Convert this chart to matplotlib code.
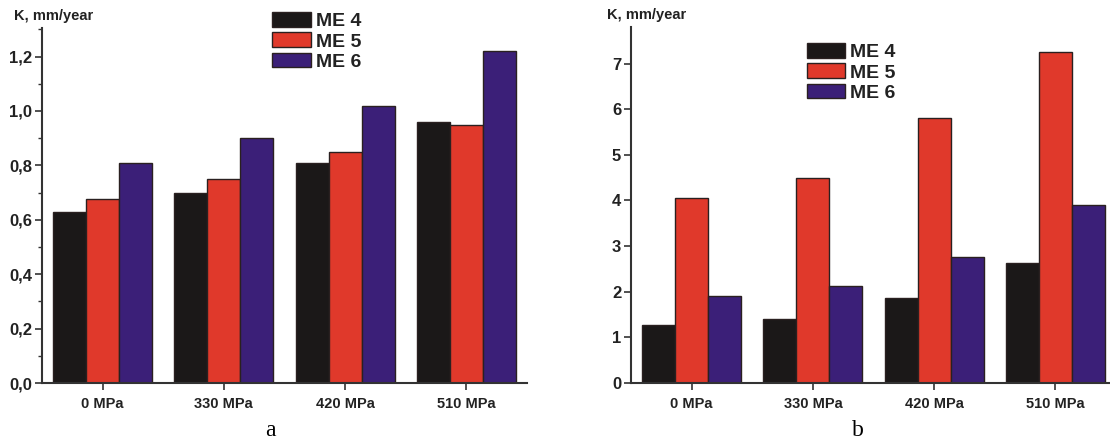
import matplotlib
matplotlib.use("Agg")
import matplotlib.pyplot as plt
import numpy as np
from matplotlib.ticker import MultipleLocator, FuncFormatter

plt.rcParams['font.family'] = ['Liberation Sans', 'DejaVu Sans']

categories = ["0 MPa", "330 MPa", "420 MPa", "510 MPa"]
series_names = ["ME 4", "ME 5", "ME 6"]
a_me4 = [0.63, 0.70, 0.81, 0.96]
a_me5 = [0.675, 0.75, 0.85, 0.95]
a_me6 = [0.81, 0.90, 1.02, 1.22]
b_me4 = [1.26, 1.41, 1.87, 2.63]
b_me5 = [4.05, 4.50, 5.80, 7.25]
b_me6 = [1.91, 2.12, 2.75, 3.90]

colors = ["#1b1818", "#e0392b", "#3b1f78"]
edge = "#2a2020"

fig = plt.figure(figsize=(11.10, 4.41), dpi=100)
axa = fig.add_axes([42/1110, 1-383/441, (527-42)/1110, (383-28)/441])
axb = fig.add_axes([631/1110, 1-383/441, (1116-631)/1110, (383-27)/441])

x = np.arange(len(categories))
w = 0.272

def draw(ax, data, ylim, major, minor, fmt, leg_anchor):
    for i, (vals, c, n) in enumerate(zip(data, colors, series_names)):
        ax.bar(x + (i-1)*w, vals, width=w, color=c, edgecolor=edge, linewidth=1.0, label=n)
    ax.set_xlim(-0.5, 3.5)
    ax.set_ylim(*ylim)
    ax.set_xticks(x)
    ax.set_xticklabels(categories, fontsize=10.5, fontweight='bold', color='#222222')
    ax.yaxis.set_major_locator(MultipleLocator(major))
    if minor:
        ax.yaxis.set_minor_locator(MultipleLocator(minor))
    ax.yaxis.set_major_formatter(FuncFormatter(fmt))
    for lab in ax.get_yticklabels():
        lab.set_fontweight('bold')
    ax.tick_params(axis='y', labelsize=12, labelcolor='#222222', length=5, width=1.2, color='#333333', direction='out', pad=2)
    ax.tick_params(axis='y', which='minor', length=3, width=1.0, color='#333333')
    ax.tick_params(axis='x', length=5, width=1.2, color='#333333', pad=5)
    for s in ['top', 'right']:
        ax.spines[s].set_visible(False)
    for s in ['left', 'bottom']:
        ax.spines[s].set_linewidth(1.5)
        ax.spines[s].set_color('#333333')
    leg = ax.legend(loc='upper left', bbox_to_anchor=leg_anchor, frameon=False,
                    fontsize=14, handlelength=2.0, handleheight=0.78, labelspacing=0.12,
                    handletextpad=0.25, borderpad=0, borderaxespad=0)
    for t in leg.get_texts():
        t.set_fontweight('bold')
        t.set_color('#222222')
    return leg

draw(axa, [a_me4, a_me5, a_me6], (0, 1.305), 0.2, 0.1,
     lambda v, p: f"{v:.1f}".replace('.', ','), (0.475, 1.045))
draw(axb, [b_me4, b_me5, b_me6], (0, 7.8), 1, None,
     lambda v, p: f"{v:.0f}", (0.362, 0.955))

fig.text(14/1110, 1-16/441, "K, mm/year", fontsize=10.5, fontweight='bold', color='#222222',
         ha='left', va='center')
fig.text(607/1110, 1-15/441, "K, mm/year", fontsize=10.5, fontweight='bold', color='#222222',
         ha='left', va='center')

fig.text(270/1110, 1-430/441, "a", fontsize=17, family='Liberation Serif', ha='center', va='center')
fig.text(858/1110, 1-430/441, "b", fontsize=17, family='Liberation Serif', ha='center', va='center')

fig.savefig("out.png", dpi=100)
